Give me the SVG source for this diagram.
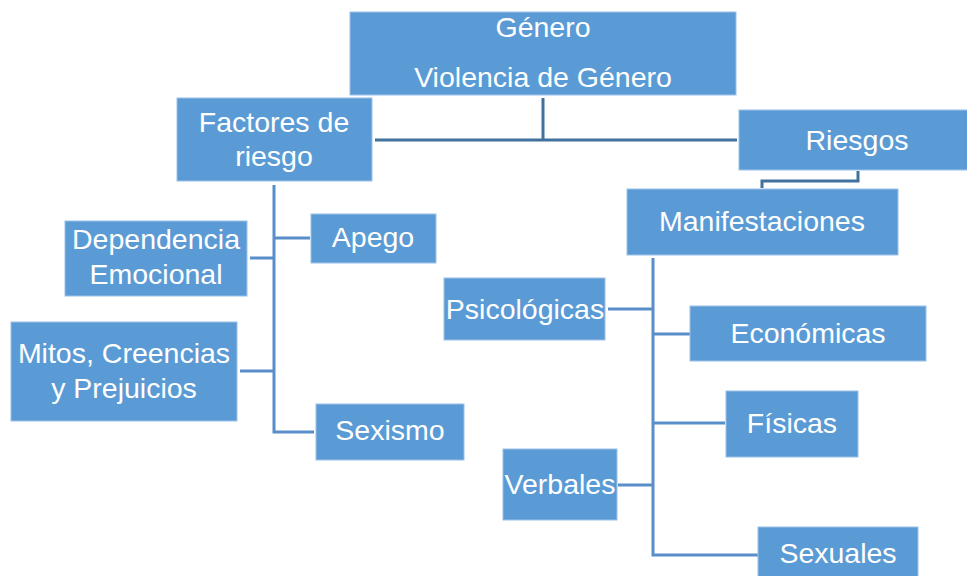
<svg xmlns="http://www.w3.org/2000/svg" width="967" height="576" viewBox="0 0 967 576">
<style>
.box{fill:#5b9bd5;stroke:#9cc2e8;stroke-width:1}
.t{font-family:"Liberation Sans",Arial,sans-serif;font-size:28.5px;fill:#ffffff;text-anchor:middle}
.c{fill:none;stroke:#5a8ecb;stroke-width:3}
.cd{fill:none;stroke:#41719c;stroke-width:3}
</style>
<rect width="967" height="576" fill="#ffffff"/>
<g id="connectors">
<path class="cd" d="M543 98 V140 M375 140 H737"/>
<path class="cd" d="M858 171 V181 H762 V188"/>
<path class="c" d="M274 185 V432 H314 M274 238 H310 M250 258 H274 M240 371 H274"/>
<path class="c" d="M653 258 V555 H758 M608 309 H653 M653 334 H690 M653 423 H725 M618 485 H653"/>
</g>
<g id="genero"><rect class="box" x="350" y="12" width="386" height="83"/><text class="t" x="543" y="37">Género</text><text class="t" x="543" y="87">Violencia de Género</text></g>
<g id="factores"><rect class="box" x="177" y="98" width="195" height="83"/><text class="t" x="274" y="132">Factores de</text><text class="t" x="274" y="166">riesgo</text></g>
<g id="riesgos"><rect class="box" x="739" y="110" width="229" height="60"/><text class="t" x="857" y="150">Riesgos</text></g>
<g id="dependencia"><rect class="box" x="65" y="221" width="182" height="75"/><text class="t" x="156" y="249">Dependencia</text><text class="t" x="156" y="284">Emocional</text></g>
<g id="apego"><rect class="box" x="311" y="214" width="125" height="49"/><text class="t" x="373" y="247">Apego</text></g>
<g id="mitos"><rect class="box" x="11" y="322" width="226" height="99"/><text class="t" x="124" y="363">Mitos, Creencias</text><text class="t" x="124" y="398">y Prejuicios</text></g>
<g id="sexismo"><rect class="box" x="316" y="404" width="148" height="56"/><text class="t" x="390" y="440">Sexismo</text></g>
<g id="manifestaciones"><rect class="box" x="627" y="189" width="271" height="66"/><text class="t" x="762" y="231">Manifestaciones</text></g>
<g id="psicologicas"><rect class="box" x="444" y="278" width="161" height="62"/><text class="t" x="525" y="319">Psicológicas</text></g>
<g id="economicas"><rect class="box" x="690" y="306" width="236" height="55"/><text class="t" x="808" y="343">Económicas</text></g>
<g id="fisicas"><rect class="box" x="726" y="391" width="132" height="66"/><text class="t" x="792" y="433">Físicas</text></g>
<g id="verbales"><rect class="box" x="503" y="449" width="114" height="71"/><text class="t" x="560" y="494">Verbales</text></g>
<g id="sexuales"><rect class="box" x="758" y="527" width="160" height="52"/><text class="t" x="838" y="563">Sexuales</text></g>
</svg>
